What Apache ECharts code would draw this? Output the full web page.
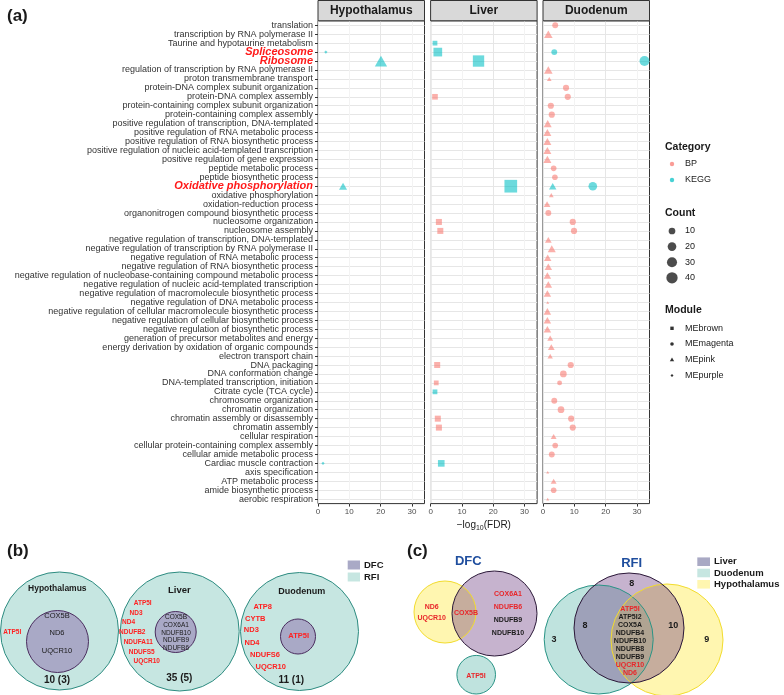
<!DOCTYPE html>
<html><head><meta charset="utf-8">
<script src="https://cdn.jsdelivr.net/npm/echarts@6/dist/echarts.min.js"></script>
<style>html,body{margin:0;padding:0;background:#fff}#c{width:784px;height:695px}</style>
</head><body><div id="c"></div>
<script>
// ---------------- DATA ----------------
const terms = [
 'translation','transcription by RNA polymerase II','Taurine and hypotaurine metabolism','Spliceosome','Ribosome',
 'regulation of transcription by RNA polymerase II','proton transmembrane transport','protein-DNA complex subunit organization',
 'protein-DNA complex assembly','protein-containing complex subunit organization','protein-containing complex assembly',
 'positive regulation of transcription, DNA-templated','positive regulation of RNA metabolic process',
 'positive regulation of RNA biosynthetic process','positive regulation of nucleic acid-templated transcription',
 'positive regulation of gene expression','peptide metabolic process','peptide biosynthetic process',
 'Oxidative phosphorylation','oxidative phosphorylation','oxidation-reduction process',
 'organonitrogen compound biosynthetic process','nucleosome organization','nucleosome assembly',
 'negative regulation of transcription, DNA-templated','negative regulation of transcription by RNA polymerase II',
 'negative regulation of RNA metabolic process','negative regulation of RNA biosynthetic process',
 'negative regulation of nucleobase-containing compound metabolic process',
 'negative regulation of nucleic acid-templated transcription','negative regulation of macromolecule biosynthetic process',
 'negative regulation of DNA metabolic process','negative regulation of cellular macromolecule biosynthetic process',
 'negative regulation of cellular biosynthetic process','negative regulation of biosynthetic process',
 'generation of precursor metabolites and energy','energy derivation by oxidation of organic compounds',
 'electron transport chain','DNA packaging','DNA conformation change','DNA-templated transcription, initiation',
 'Citrate cycle (TCA cycle)','chromosome organization','chromatin organization','chromatin assembly or disassembly',
 'chromatin assembly','cellular respiration','cellular protein-containing complex assembly',
 'cellular amide metabolic process','Cardiac muscle contraction','axis specification','ATP metabolic process',
 'amide biosynthetic process','aerobic respiration'
];
const highlightTerms = ['Spliceosome','Ribosome','Oxidative phosphorylation'];
const tissues = ['Hypothalamus','Liver','Duodenum'];
const xTicks = [0,10,20,30];

// [term, -log10(FDR), Count, Category, Module]
const hypothalamus = [
 ['Spliceosome', 2.5, 1, 'KEGG', 'MEpurple'],
 ['Ribosome', 20.1, 31, 'KEGG', 'MEpink'],
 ['Oxidative phosphorylation', 8.0, 10, 'KEGG', 'MEpink'],
 ['Cardiac muscle contraction', 1.6, 1, 'KEGG', 'MEpurple']
];
const liver = [
 ['Taurine and hypotaurine metabolism', 1.4, 3, 'KEGG', 'MEbrown'],
 ['Spliceosome', 2.3, 17, 'KEGG', 'MEbrown'],
 ['Ribosome', 15.3, 34, 'KEGG', 'MEbrown'],
 ['protein-DNA complex assembly', 1.4, 5, 'BP', 'MEbrown'],
 ['Oxidative phosphorylation', 25.6, 45, 'KEGG', 'MEbrown'],
 ['nucleosome organization', 2.65, 6, 'BP', 'MEbrown'],
 ['nucleosome assembly', 3.1, 6, 'BP', 'MEbrown'],
 ['DNA packaging', 2.1, 6, 'BP', 'MEbrown'],
 ['DNA-templated transcription, initiation', 1.8, 3, 'BP', 'MEbrown'],
 ['Citrate cycle (TCA cycle)', 1.4, 3, 'KEGG', 'MEbrown'],
 ['chromatin assembly or disassembly', 2.3, 6, 'BP', 'MEbrown'],
 ['chromatin assembly', 2.65, 6, 'BP', 'MEbrown'],
 ['Cardiac muscle contraction', 3.4, 8, 'KEGG', 'MEbrown']
];
const duodenum = [
 ['translation', 3.9, 7, 'BP', 'MEmagenta'],
 ['transcription by RNA polymerase II', 1.7, 12, 'BP', 'MEpink'],
 ['Spliceosome', 3.6, 7, 'KEGG', 'MEmagenta'],
 ['Ribosome', 32.4, 29, 'KEGG', 'MEmagenta'],
 ['regulation of transcription by RNA polymerase II', 1.7, 12, 'BP', 'MEpink'],
 ['proton transmembrane transport', 2.0, 2, 'BP', 'MEpink'],
 ['protein-DNA complex subunit organization', 7.35, 8, 'BP', 'MEmagenta'],
 ['protein-DNA complex assembly', 7.9, 8, 'BP', 'MEmagenta'],
 ['protein-containing complex subunit organization', 2.5, 8, 'BP', 'MEmagenta'],
 ['protein-containing complex assembly', 2.8, 8, 'BP', 'MEmagenta'],
 ['positive regulation of transcription, DNA-templated', 1.5, 10, 'BP', 'MEpink'],
 ['positive regulation of RNA metabolic process', 1.4, 10, 'BP', 'MEpink'],
 ['positive regulation of RNA biosynthetic process', 1.4, 10, 'BP', 'MEpink'],
 ['positive regulation of nucleic acid-templated transcription', 1.4, 10, 'BP', 'MEpink'],
 ['positive regulation of gene expression', 1.4, 10, 'BP', 'MEpink'],
 ['peptide metabolic process', 3.4, 6, 'BP', 'MEmagenta'],
 ['peptide biosynthetic process', 3.8, 6, 'BP', 'MEmagenta'],
 ['Oxidative phosphorylation', 3.1, 8, 'KEGG', 'MEpink'],
 ['Oxidative phosphorylation', 15.9, 20, 'KEGG', 'MEmagenta'],
 ['oxidative phosphorylation', 2.65, 2, 'BP', 'MEpink'],
 ['oxidation-reduction process', 1.3, 6, 'BP', 'MEpink'],
 ['organonitrogen compound biosynthetic process', 1.7, 7, 'BP', 'MEmagenta'],
 ['nucleosome organization', 9.5, 8, 'BP', 'MEmagenta'],
 ['nucleosome assembly', 9.9, 8, 'BP', 'MEmagenta'],
 ['negative regulation of transcription, DNA-templated', 1.7, 6, 'BP', 'MEpink'],
 ['negative regulation of transcription by RNA polymerase II', 2.8, 10, 'BP', 'MEpink'],
 ['negative regulation of RNA metabolic process', 1.5, 8, 'BP', 'MEpink'],
 ['negative regulation of RNA biosynthetic process', 1.7, 8, 'BP', 'MEpink'],
 ['negative regulation of nucleobase-containing compound metabolic process', 1.4, 8, 'BP', 'MEpink'],
 ['negative regulation of nucleic acid-templated transcription', 1.7, 8, 'BP', 'MEpink'],
 ['negative regulation of macromolecule biosynthetic process', 1.4, 8, 'BP', 'MEpink'],
 ['negative regulation of DNA metabolic process', 1.5, 1, 'BP', 'MEpink'],
 ['negative regulation of cellular macromolecule biosynthetic process', 1.4, 8, 'BP', 'MEpink'],
 ['negative regulation of cellular biosynthetic process', 1.4, 8, 'BP', 'MEpink'],
 ['negative regulation of biosynthetic process', 1.4, 8, 'BP', 'MEpink'],
 ['generation of precursor metabolites and energy', 2.3, 4, 'BP', 'MEpink'],
 ['energy derivation by oxidation of organic compounds', 2.65, 6, 'BP', 'MEpink'],
 ['electron transport chain', 2.3, 3, 'BP', 'MEpink'],
 ['DNA packaging', 8.85, 8, 'BP', 'MEmagenta'],
 ['DNA conformation change', 6.5, 10, 'BP', 'MEmagenta'],
 ['DNA-templated transcription, initiation', 5.3, 4, 'BP', 'MEmagenta'],
 ['chromosome organization', 3.6, 7, 'BP', 'MEmagenta'],
 ['chromatin organization', 5.75, 10, 'BP', 'MEmagenta'],
 ['chromatin assembly or disassembly', 9.0, 8, 'BP', 'MEmagenta'],
 ['chromatin assembly', 9.5, 8, 'BP', 'MEmagenta'],
 ['cellular respiration', 3.4, 4, 'BP', 'MEpink'],
 ['cellular protein-containing complex assembly', 3.9, 6, 'BP', 'MEmagenta'],
 ['cellular amide metabolic process', 2.8, 7, 'BP', 'MEmagenta'],
 ['axis specification', 1.5, 1, 'BP', 'MEpink'],
 ['ATP metabolic process', 3.4, 4, 'BP', 'MEpink'],
 ['amide biosynthetic process', 3.4, 6, 'BP', 'MEmagenta'],
 ['aerobic respiration', 1.5, 1, 'BP', 'MEpink']
];
const categoryNames = ['BP','KEGG'];
const countBreaks = [10,20,30,40];
const moduleNames = ['MEbrown','MEmagenta','MEpink','MEpurple'];

// Venn (b)
const vennBTotals = ['10 (3)','35 (5)','11 (1)'];
const vennBShared = [['COX5B','ND6','UQCR10'], ['COX5B','COX6A1','NDUFB10','NDUFB9','NDUFB6'], ['ATP5I']];
const vennBRfiOnly = [['ATP5I'], ['ATP5I','ND3','ND4','NDUFB2','NDUFA11','NDUFS5','UQCR10'], ['ATP8','CYTB','ND3','ND4','NDUFS6','UQCR10']];
const vennBLegend = ['DFC','RFI'];
// Venn (c)
const dfcHypoOnly = ['ND6','UQCR10'];
const dfcHypoLiver = ['COX5B'];
const dfcLiverOnly = ['COX6A1','NDUFB6','NDUFB9','NDUFB10'];
const dfcDuoOnly = ['ATP5I'];
const rfiCore = ['ATP5I','ATP5I2','COX5A','NDUFB4','NDUFB10','NDUFB8','NDUFB9','UQCR10','ND6'];
const rfiCounts = {duoOnly: 3, duoLiver: 8, liverOnly: 8, liverHypo: 10, hypoOnly: 9};
const redGenesC = ['ND6','UQCR10','COX5B','COX6A1','NDUFB6','ATP5I'];
const vennCLegend = ['Liver','Duodenum','Hypothalamus'];

// ---------------- STYLE / LAYOUT ----------------
const FONT = "'Liberation Sans', Arial, sans-serif";
const COL = {BP: 'rgba(248,118,109,0.72)', KEGG: 'rgba(0,191,196,0.72)'};
const SYM = {MEbrown: 'rect', MEmagenta: 'circle', MEpink: 'triangle', MEpurple: 'diamond'};
function baseD(c){ return 2.45 + 1.418*Math.sqrt(Math.max(c-1,0)); }
function symSize(c, m){
  const d = baseD(c);
  if (m === 'MEbrown') return d*1.07;
  if (m === 'MEpink') return [d*1.2, d*1.05];
  if (m === 'MEpurple') return [d*1.35, d*1.35];
  return d;
}
const panelLeft = [318, 430.6, 543];
const panelW = 106.5, panelTop = 20.8, panelH = 482.8;
const panels = [hypothalamus, liver, duodenum];

const grids = [], xAxes = [], yAxes = [], series = [];
panels.forEach((rows, i) => {
  grids.push({left: panelLeft[i], top: panelTop, width: panelW, height: panelH,
    show: true, borderColor: '#333', borderWidth: 1, backgroundColor: '#fff', outerBoundsMode: 'none'});
  xAxes.push({type: 'value', gridIndex: i, min: 0, max: 34, interval: 5,
    name: i === 1 ? '\u2212log{s|10}(FDR)' : '', nameLocation: 'middle', nameGap: 14,
    nameTextStyle: {fontSize: 10, color: '#1a1a1a', fontFamily: FONT, rich: {s: {fontSize: 7, verticalAlign: 'bottom', padding: [6,0,0,0], fontFamily: FONT, color: '#1a1a1a'}}},
    axisLine: {show: false},
    axisTick: {show: true, length: 3, customValues: xTicks, lineStyle: {color: '#333', width: 1}},
    axisLabel: {fontSize: 8, color: '#4D4D4D', margin: 4, fontFamily: FONT, customValues: xTicks},
    splitLine: {show: true, lineStyle: {color: ['#E6E6E6','#F3F3F3'], width: 1}}
  });
  yAxes.push({type: 'category', gridIndex: i, data: terms, inverse: true, boundaryGap: true,
    axisLine: {show: false},
    axisTick: {show: i === 0, alignWithLabel: true, interval: 0, length: 3, lineStyle: {color: '#333', width: 1}},
    axisLabel: {show: i === 0, interval: 0, fontSize: 9, color: '#333', margin: 5, fontFamily: FONT,
      formatter: v => highlightTerms.includes(v) ? '{k|' + v + '}' : v,
      rich: {k: {color: '#FF1A1A', fontWeight: 'bold', fontStyle: 'italic', fontSize: 11, fontFamily: FONT}}},
    splitLine: {show: true, alignWithLabel: true, interval: 0, lineStyle: {color: '#E6E6E6', width: 1}}
  });
  series.push({type: 'scatter', xAxisIndex: i, yAxisIndex: i, clip: true,
    data: rows.map(r => ({value: [r[1], r[0]], symbol: SYM[r[4]], symbolSize: symSize(r[2], r[4]),
      itemStyle: {color: COL[r[3]]}})),
    emphasis: {disabled: true}, animation: false});
});

// ---------------- GRAPHIC helpers ----------------
const G = [];
function T(x, y, text, size, o){
  o = o || {};
  G.push({type: 'text', x: x, y: y, z: 20, silent: true, style: {text: text, fill: o.color || '#1a1a1a',
    font: (o.italic ? 'italic ' : '') + (o.bold ? 'bold ' : '') + size + 'px ' + (o.font || FONT),
    align: o.align || 'center', verticalAlign: 'middle'}});
}
function C(cx, cy, r, fill, stroke, lw, z){
  G.push({type: 'circle', z: z || 5, silent: true, shape: {cx: cx, cy: cy, r: r}, style: {fill: fill, stroke: stroke || null, lineWidth: lw || 0}});
}
function R(x, y, w, h, fill, stroke, z){
  G.push({type: 'rect', z: z || 5, silent: true, shape: {x: x, y: y, width: w, height: h}, style: {fill: fill, stroke: stroke || null, lineWidth: stroke ? 1 : 0}});
}
function P(points, fill, z){
  G.push({type: 'polygon', z: z || 5, silent: true, shape: {points: points}, style: {fill: fill}});
}

// strips
tissues.forEach((t, i) => {
  R(panelLeft[i], 0.5, panelW, panelTop - 0.5, '#D9D9D9', '#333', 5);
  T(panelLeft[i] + panelW/2, 11, t, 12, {bold: true});
});
T(7, 16, '(a)', 17, {bold: true, align: 'left'});

// legends (a)
const LX = 672, LT = 685;
T(665, 147, 'Category', 10.5, {bold: true, align: 'left'});
categoryNames.forEach((c, k) => { const y = 164 + k*16; C(LX, y, 2.2, COL[c]); T(LT, y, c, 9, {align: 'left'}); });
T(665, 212.7, 'Count', 10.5, {bold: true, align: 'left'});
countBreaks.forEach((c, k) => { const y = 231 + k*15.6; C(LX, y, baseD(c)/2, 'rgba(0,0,0,0.7)'); T(LT, y, String(c), 9, {align: 'left'}); });
T(665, 310, 'Module', 10.5, {bold: true, align: 'left'});
moduleNames.forEach((m, k) => {
  const y = 328.3 + k*15.7, col = '#333';
  if (m === 'MEbrown') R(LX-1.7, y-1.7, 3.4, 3.4, col);
  else if (m === 'MEmagenta') C(LX, y, 1.8, col);
  else if (m === 'MEpink') P([[LX, y-2.2],[LX+2.2, y+1.6],[LX-2.2, y+1.6]], col);
  else P([[LX, y-1.5],[LX+1.5, y],[LX, y+1.5],[LX-1.5, y]], col);
  T(LT, y, m, 9, {align: 'left'});
});

// ---------------- Panel (b) ----------------
T(7, 551, '(b)', 17, {bold: true, align: 'left'});
const RFI_FILL = '#C6E6E1', RFI_STROKE = '#2E8C81', DFC_FILL = '#A9A9C6', DFC_STROKE = '#4A2D5E';
const bBig = [[59.5, 631, 59], [179.7, 631.5, 59.5], [299.5, 631.5, 59]];
const bInner = [[57.5, 641.5, 31], [175.7, 632, 20.5], [298, 636.5, 17.5]];
bBig.forEach(c => C(c[0], c[1], c[2], RFI_FILL, RFI_STROKE, 1));
bInner.forEach(c => C(c[0], c[1], c[2], DFC_FILL, DFC_STROKE, 1, 6));
const bTitleY = [589, 590, 592], bTitleX = [57.3, 179.3, 301.7], bTitleSize = [8.5, 9.5, 9];
tissues.forEach((t, i) => T(bTitleX[i], bTitleY[i], t, bTitleSize[i], {bold: true}));
const bTotX = [57, 179.3, 291.3], bTotY = [680, 678.3, 680];
vennBTotals.forEach((s, i) => T(bTotX[i], bTotY[i], s, 10, {bold: true}));
// shared (inner) gene positions
const bSharedPos = [
  [[57, 616], [57, 632.7], [57, 651]],
  [[176, 617.5], [176, 625.2], [176, 632.8], [176, 640.5], [176, 648.2]],
  [[298.7, 636]]
];
vennBShared.forEach((g, i) => g.forEach((s, k) => T(bSharedPos[i][k][0], bSharedPos[i][k][1], s, i === 1 ? 6.5 : (i === 2 ? 7.5 : 7.5),
  {color: i === 2 ? '#FF2020' : '#1a1a1a', bold: i === 2})));
const bOnlyPos = [
  [[12.3, 632.7]],
  [[142.7, 603.3], [136, 612.8], [128.5, 622.7], [132.3, 632.7], [138.3, 642.7], [141.7, 652.5], [146.7, 661.3]],
  [[262.7, 606.7], [255.3, 618.7], [251.3, 630.2], [252, 642.7], [265, 655.3], [270.7, 666.7]]
];
vennBRfiOnly.forEach((g, i) => g.forEach((s, k) => T(bOnlyPos[i][k][0], bOnlyPos[i][k][1], s, i === 2 ? 7.5 : 6.5, {color: '#FF2020', bold: true})));
R(347.7, 560.5, 12.3, 9, DFC_FILL); T(364, 565, vennBLegend[0], 9.5, {bold: true, align: 'left'});
R(347.7, 572.5, 12.3, 9, RFI_FILL); T(364, 577, vennBLegend[1], 9.5, {bold: true, align: 'left'});

// ---------------- Panel (c) ----------------
T(407, 551, '(c)', 17, {bold: true, align: 'left'});
const BLUE = '#1F4E9E';
T(468.3, 561.7, 'DFC', 13, {bold: true, color: BLUE});
T(631.7, 563.3, 'RFI', 13, {bold: true, color: BLUE});
const TEAL_A = 'rgba(112,192,182,0.45)', PURP_A = 'rgba(105,55,125,0.38)', YEL_A = 'rgba(255,234,80,0.45)';
const TEAL_S = '#2A9486', PURP_S = '#2B1838', YEL_S = '#F2DC2E';
// DFC venn
C(445, 612, 31, YEL_A, null, 0, 7);
C(494.5, 613.5, 42.5, PURP_A, null, 0, 8);
C(476.2, 674.7, 19.3, TEAL_A, null, 0, 7);
C(445, 612, 31, 'none', YEL_S, 1, 9);
C(494.5, 613.5, 42.5, 'none', PURP_S, 1, 9);
C(476.2, 674.7, 19.3, 'none', TEAL_S, 1, 9);
const RED = '#E8262A';
const gc = s => redGenesC.includes(s) ? RED : '#1a1a1a';
dfcHypoOnly.forEach((s, k) => T(431.7, 607.3 + k*11, s, 7, {bold: true, color: gc(s)}));
dfcHypoLiver.forEach((s, k) => T(466, 612.7, s, 7, {bold: true, color: gc(s)}));
dfcLiverOnly.forEach((s, k) => T(508, 594 + k*13.1, s, 7, {bold: true, color: gc(s)}));
dfcDuoOnly.forEach((s, k) => T(476, 676, s, 7, {bold: true, color: gc(s)}));
// RFI venn
C(598.7, 639.5, 54.5, TEAL_A, null, 0, 7);
C(667, 640, 56, YEL_A, null, 0, 7);
C(629, 628, 55, PURP_A, null, 0, 8);
C(598.7, 639.5, 54.5, 'none', TEAL_S, 1, 9);
C(667, 640, 56, 'none', YEL_S, 1, 9);
C(629, 628, 55, 'none', PURP_S, 1, 9);
rfiCore.forEach((s, k) => T(630, 609.3 + k*7.93, s, 7, {bold: true, color: s === 'ATP5I' || s === 'UQCR10' || s === 'ND6' ? RED : '#1a1a1a'}));
T(631.7, 584, String(rfiCounts.liverOnly), 9, {bold: true});
T(585, 626, String(rfiCounts.duoLiver), 9, {bold: true});
T(673.3, 626, String(rfiCounts.liverHypo), 9, {bold: true});
T(554, 640, String(rfiCounts.duoOnly), 9, {bold: true});
T(706.7, 640, String(rfiCounts.hypoOnly), 9, {bold: true});
const cLegFill = ['#A9A9C4', '#C6E6E1', '#FFF6B0'];
vennCLegend.forEach((s, k) => { const y = 561.7 + k*11.3; R(697.3, y-4.3, 12.7, 8.6, cLegFill[k]); T(714, y, s, 9.5, {bold: true, align: 'left'}); });

// ---------------- CHART ----------------
const chart = echarts.init(document.getElementById('c'), null, {renderer: 'canvas'});
chart.setOption({
  animation: false,
  backgroundColor: '#fff',
  textStyle: {fontFamily: FONT},
  grid: grids, xAxis: xAxes, yAxis: yAxes, series: series,
  graphic: G
});
</script></body></html>
